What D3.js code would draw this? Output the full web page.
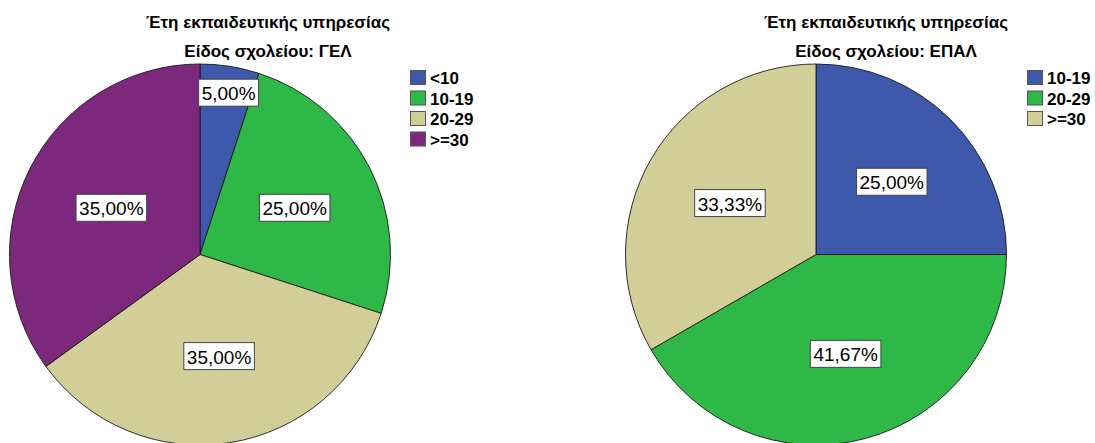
<!DOCTYPE html>
<html>
<head>
<meta charset="utf-8">
<script src="https://cdn.jsdelivr.net/npm/d3@7"></script>
<style>
  html, body { margin: 0; padding: 0; background: #fff; }
  svg { display: block; font-family: Arial, "Liberation Sans", sans-serif; }
</style>
</head>
<body>
<svg id="chart" width="1095" height="443"></svg>
<script>
const chartTitle = "Έτη εκπαιδευτικής υπηρεσίας";
const panelTitles = ["Είδος σχολείου: ΓΕΛ", "Είδος σχολείου: ΕΠΑΛ"];
const gelCategories = ["<10", "10-19", "20-29", ">=30"];
const gelValues = [5.00, 25.00, 35.00, 35.00];
const epalCategories = ["10-19", "20-29", ">=30"];
const epalValues = [25.00, 41.67, 33.33];
const palette = ["#3E58AC", "#2EB848", "#D3CE97", "#7C287D"];

const svg = d3.select("#chart");
const R = 190.5;
const cy = 254.5;

const panels = [
  { cats: gelCategories, vals: gelValues, title: panelTitles[0], cx: 200, titleX: 268, legendX: 410 },
  { cats: epalCategories, vals: epalValues, title: panelTitles[1], cx: 816, titleX: 886, legendX: 1027 }
];

const fmt = v => v.toFixed(2).replace(".", ",") + "%";

panels.forEach(p => {
  const color = d3.scaleOrdinal().domain(p.cats).range(palette);
  const pie = d3.pie().sort(null).value(d => d.v);
  const data = pie(p.cats.map((c, i) => ({ c, v: p.vals[i] })));
  const arc = d3.arc().innerRadius(0).outerRadius(R);

  const g = svg.append("g").attr("transform", `translate(${p.cx},${cy})`);
  g.selectAll("path.slice").data(data).join("path")
    .attr("class", "slice")
    .attr("d", arc)
    .attr("fill", d => color(d.data.c))
    .attr("stroke", "#1a1a1a")
    .attr("stroke-width", 0.9);

  const labelArc = d3.arc();
  data.forEach(d => {
    const frac = d.data.v < 10 ? 0.86 : 0.54;
    const rr = R * frac;
    const [lx, ly] = labelArc.innerRadius(rr).outerRadius(rr).centroid(d);
    const lg = g.append("g").attr("transform", `translate(${lx + 3},${ly})`);
    const rect = lg.append("rect").attr("fill", "#fff").attr("stroke", "#444").attr("stroke-width", 1);
    const t = lg.append("text")
      .attr("text-anchor", "middle")
      .attr("dominant-baseline", "central")
      .attr("y", 1)
      .attr("font-size", 19)
      .attr("fill", "#000")
      .text(fmt(d.data.v));
    const bb = t.node().getBBox();
    const w = bb.width + 6, h = 27;
    rect.attr("x", -w / 2).attr("y", -h / 2).attr("width", w).attr("height", h);
  });

  svg.append("text")
    .attr("x", p.titleX).attr("y", 28)
    .attr("text-anchor", "middle")
    .attr("font-size", 17).attr("font-weight", "bold")
    .text(chartTitle);
  svg.append("text")
    .attr("x", p.titleX).attr("y", 57)
    .attr("text-anchor", "middle")
    .attr("font-size", 17).attr("font-weight", "bold")
    .text(p.title);

  const leg = svg.append("g").attr("transform", `translate(${p.legendX},70)`);
  const items = leg.selectAll("g").data(p.cats).join("g")
    .attr("transform", (d, i) => `translate(0,${i * 20.5})`);
  items.append("rect")
    .attr("x", 0.5).attr("y", 0.5).attr("width", 15).attr("height", 14)
    .attr("fill", d => color(d))
    .attr("stroke", "#555").attr("stroke-width", 1);
  items.append("text")
    .attr("x", 20).attr("y", 14)
    .attr("font-size", 17).attr("font-weight", "bold")
    .text(d => d);
});
</script>
</body>
</html>
